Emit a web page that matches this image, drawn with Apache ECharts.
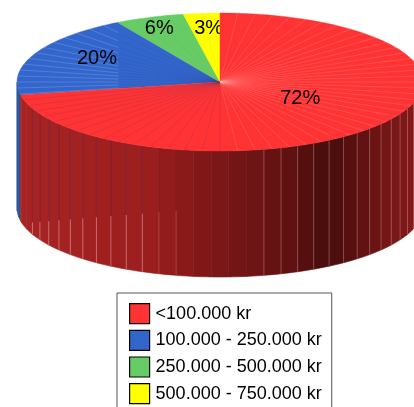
<!DOCTYPE html>
<html><head><meta charset="utf-8">
<style>html,body{margin:0;padding:0;background:#fff;overflow:hidden}#c{width:414px;height:407px}</style>
<script src="https://cdn.jsdelivr.net/npm/echarts@6/dist/echarts.min.js"></script>
</head><body><div id="c"></div>
<script>
const categories = ['<100.000 kr','100.000 - 250.000 kr','250.000 - 500.000 kr','500.000 - 750.000 kr'];
const values = [72.0, 19.6, 5.5, 2.9];
const sliceLabels = ['72%','20%','6%','3%'];
const topColors = ['#FF3333','#3366CC','#66CC66','#FFFF00'];
const labelRadius = [0.5,0.72,0.86,0.72];
const labelNudge = [[2,-6],[10,-3],[0,2],[2,-4]];
const wallStops = [[17,'#a82424'],[150,'#9b1e1e'],[207,'#7f1818'],[290,'#601111'],[325,'#4a0d0d'],[345,'#520e0e'],[380,'#701515'],[423,'#8a1b1b']];
const FONT = '"Liberation Sans", Arial, sans-serif';
const DEPTH = 1.826, STEP = 5;

const total = values.reduce((a,b)=>a+b,0);
let acc = 0;
const spans = values.map(v=>{const s=acc; acc+=v/total*360; return [s,acc];});
const rad = d=>d*Math.PI/180;
function hex(c){return [1,3,5].map(i=>parseInt(c.substr(i,2),16));}
function shade(x){
  for(let i=1;i<wallStops.length;i++){
    if(x<=wallStops[i][0]){
      const [x0,c0]=wallStops[i-1],[x1,c1]=wallStops[i];
      const t=Math.max(0,(x-x0)/(x1-x0));
      const a=hex(c0),b=hex(c1);
      return 'rgb('+a.map((v,k)=>Math.round(v+(b[k]-v)*t)).join(',')+')';
    }
  }
  return wallStops[wallStops.length-1][1];
}
function breaks(a,b,off){
  const out=[a];
  let k=Math.ceil((a-off)/STEP+1e-6);
  while(k*STEP+off<b-1e-6){out.push(k*STEP+off);k++;}
  out.push(b);
  return out;
}
function line(p,q,stroke,w){
  return {type:'line',shape:{x1:p[0],y1:p[1],x2:q[0],y2:q[1]},style:{stroke:stroke,lineWidth:w||1}};
}
function makeRender(idx){
  return function(params,api){
    const P=(th,dz)=>api.coord([Math.sin(rad(th)),Math.cos(rad(th))-(dz||0)]);
    const [a,b]=spans[idx];
    const kids=[];
    const center=api.coord([0,0]);
    const wa=Math.max(a,90), wb=Math.min(b,270);
    if(wb>wa){
      const br=breaks(wa,wb,2.5);
      for(let i=0;i<br.length-1;i++){
        const t0=br[i],t1=br[i+1];
        const pts=[];
        for(let j=0;j<=3;j++)pts.push(P(t0+(t1-t0)*j/3,0));
        for(let j=3;j>=0;j--)pts.push(P(t0+(t1-t0)*j/3,DEPTH));
        const mid=P((t0+t1)/2,0)[0];
        const fill = idx===0 ? shade(mid) : '#2a5096';
        kids.push({type:'polygon',shape:{points:pts},style:{fill:fill,stroke:fill,lineWidth:.6}});
      }
      for(let i=1;i<br.length-1;i++){
        const t=br[i], off=Math.abs(t-180);
        if(off<11) continue;
        const top=P(t,0), bot=P(t,DEPTH);
        if(t>180){
          if(off>72) continue;
          const sy=225-0.08*top[0];
          const dim=off<20?.2:.4;
          kids.push(line(top,[top[0],sy],'rgba(70,30,70,'+dim+')',1));
          kids.push(line([top[0],sy],bot,'rgba(255,210,210,'+dim+')',1));
        } else {
          kids.push(line(top,bot,'rgba(255,220,220,.28)',1));
        }
      }
    }
    const fa=breaks(a,b,0);
    const arc=[center];
    for(let i=0;i<fa.length-1;i++){
      const t0=fa[i],t1=fa[i+1];
      for(let j=0;j<=3;j++)arc.push(P(t0+(t1-t0)*j/3,0));
    }
    kids.push({type:'polygon',shape:{points:arc},style:{fill:topColors[idx],stroke:topColors[idx],lineWidth:.4}});
    for(let i=1;i<fa.length-1;i++){
      const t=fa[i],q=P(t,0);
      if(idx===0){
        kids.push(line(center,q, t<180?'rgba(255,200,200,.3)':'rgba(90,50,110,.3)',.6));
      } else if(idx===1){
        const ux=-0.5, s=Math.sin(rad(t)), f=Math.min(1,ux/s);
        const m=[center[0]+(q[0]-center[0])*f,center[1]+(q[1]-center[1])*f];
        kids.push(line(center,m,'rgba(30,50,110,.2)',.6));
        kids.push(line(m,q,'rgba(190,210,240,.38)',.6));
      } else {
        kids.push(line(center,q,idx===2?'rgba(150,150,90,.3)':'rgba(190,190,60,.25)',.6));
      }
    }
    const m=(a+b)/2, r=labelRadius[idx];
    const lp=api.coord([r*Math.sin(rad(m)),r*Math.cos(rad(m))]);
    kids.push({type:'text',z2:10,style:{text:sliceLabels[idx],x:lp[0]+labelNudge[idx][0],y:lp[1]+labelNudge[idx][1],
      align:'center',verticalAlign:'middle',font:'20px '+FONT,fill:'#000'}});
    return {type:'group',children:kids};
  };
}
const chart=echarts.init(document.getElementById('c'),null,{renderer:'canvas'});
chart.setOption({
  animation:false,
  backgroundColor:'#fff',
  grid:{left:17,top:13,width:397,height:138,containLabel:false},
  xAxis:{type:'value',min:-1,max:397/203-1,show:false},
  yAxis:{type:'value',min:-1,max:1,show:false},
  legend:{
    left:117,top:293,width:215,height:130,orient:'vertical',selectedMode:false,
    backgroundColor:'#fff',borderColor:'#555',borderWidth:1,
    padding:[10,10,10,12],itemWidth:20,itemHeight:20,itemGap:5.5,icon:'rect',
    textStyle:{fontFamily:FONT,fontSize:18,color:'#000',padding:[0,0,0,1]},
    data:categories.map((n,i)=>({name:n,itemStyle:{color:topColors[i],borderColor:'#000',borderWidth:1.2}}))
  },
  series:categories.map((n,i)=>({
    name:n,type:'custom',coordinateSystem:'cartesian2d',clip:false,silent:true,
    z:2+(i===0?1:0),
    itemStyle:{color:topColors[i]},
    renderItem:makeRender(i),
    encode:{x:0,y:1},
    data:[[0,0,values[i]]]
  }))
});
</script></body></html>
